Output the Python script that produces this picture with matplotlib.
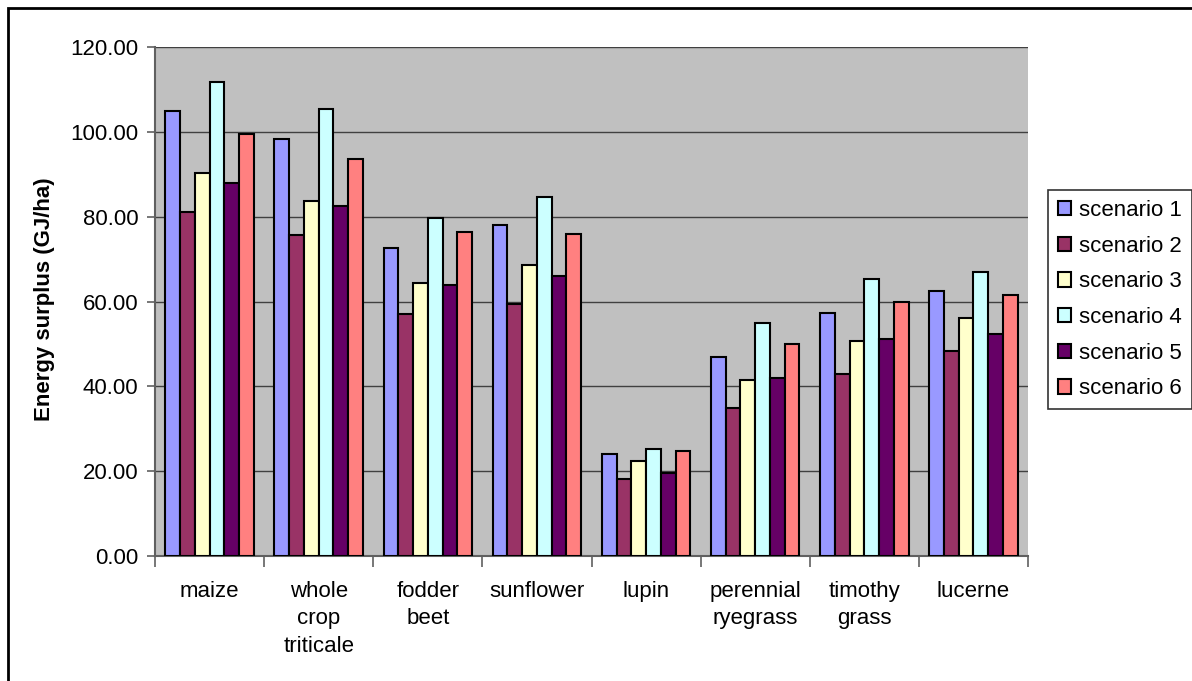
import matplotlib
matplotlib.use("Agg")
import matplotlib.pyplot as plt
import numpy as np
from matplotlib.patches import Rectangle

categories = ["maize", "whole\ncrop\ntriticale", "fodder\nbeet", "sunflower", "lupin",
              "perennial\nryegrass", "timothy\ngrass", "lucerne"]
series_names = ["scenario 1", "scenario 2", "scenario 3", "scenario 4", "scenario 5", "scenario 6"]
scenario1 = [104.8, 98.3, 72.7, 78.0, 24.0, 47.0, 57.4, 62.4]
scenario2 = [81.0, 75.6, 57.0, 59.5, 18.2, 34.8, 43.0, 48.3]
scenario3 = [90.4, 83.7, 64.4, 68.6, 22.3, 41.6, 50.7, 56.1]
scenario4 = [111.8, 105.3, 79.6, 84.6, 25.2, 55.0, 65.3, 66.9]
scenario5 = [88.0, 82.6, 64.0, 66.0, 19.5, 42.0, 51.2, 52.4]
scenario6 = [99.5, 93.6, 76.4, 76.0, 24.8, 49.9, 59.9, 61.6]
series = [scenario1, scenario2, scenario3, scenario4, scenario5, scenario6]
colors = ["#9999FF", "#993366", "#FFFFCC", "#CCFFFF", "#660066", "#FF8080"]

plt.rcParams['font.family'] = ['Liberation Sans', 'DejaVu Sans']

fig = plt.figure(figsize=(11.92, 6.81), dpi=100)
W, H = 1192, 681
ax = fig.add_axes([155 / W, 1 - 556 / H, (1028 - 155) / W, (556 - 47) / H])
ax.set_facecolor("#C0C0C0")

# outer border
fig.patches.append(Rectangle((8 / W, -0.05), 1.1, 1 - 8 / H + 0.05, transform=fig.transFigure,
                             fill=False, edgecolor="black", linewidth=2))

n = len(series)
bw = 0.135
x = np.arange(len(categories))
handles = []
for i, (vals, c, name) in enumerate(zip(series, colors, series_names)):
    b = ax.bar(x + (i - (n - 1) / 2) * bw, vals, bw, color=c, edgecolor="black",
               linewidth=1.5, label=name, zorder=3)
    handles.append(b)

ax.set_xlim(-0.5, len(categories) - 0.5)
ax.set_ylim(0, 120)
ax.set_yticks(np.arange(0, 121, 20))
ax.set_yticklabels([f"{v:.2f}" for v in np.arange(0, 121, 20)], fontsize=16)
ax.yaxis.grid(True, color="#404040", linewidth=1, zorder=0)
ax.set_axisbelow(True)

ax.set_xticks(x)
ax.set_xticklabels(categories, fontsize=16, linespacing=1.4)
ax.tick_params(axis="x", length=0, pad=18)
ax.set_xticks(np.arange(-0.5, len(categories), 1), minor=True)
ax.tick_params(axis="x", which="minor", length=8, color="#606060", width=1.2)
ax.tick_params(axis="y", length=6, color="#606060", width=1.2, pad=6)

for s in ["top", "right"]:
    ax.spines[s].set_visible(False)
for s in ["left", "bottom"]:
    ax.spines[s].set_color("#606060")
    ax.spines[s].set_linewidth(1.5)

fig.text(45 / W, 1 - 299 / H, "Energy surplus (GJ/ha)", rotation=90, fontsize=16,
         fontweight="bold", ha="center", va="center")

leg = fig.legend(handles=handles, labels=series_names, loc="upper left",
                 bbox_to_anchor=(1048 / W, 1 - 190 / H), fontsize=16, frameon=True,
                 fancybox=False, edgecolor="black", handlelength=0.6, handleheight=0.6,
                 handletextpad=0.35, labelspacing=0.66, borderpad=0.45, borderaxespad=0)
leg.get_frame().set_linewidth(1.2)

fig.savefig("out.png", dpi=100)
